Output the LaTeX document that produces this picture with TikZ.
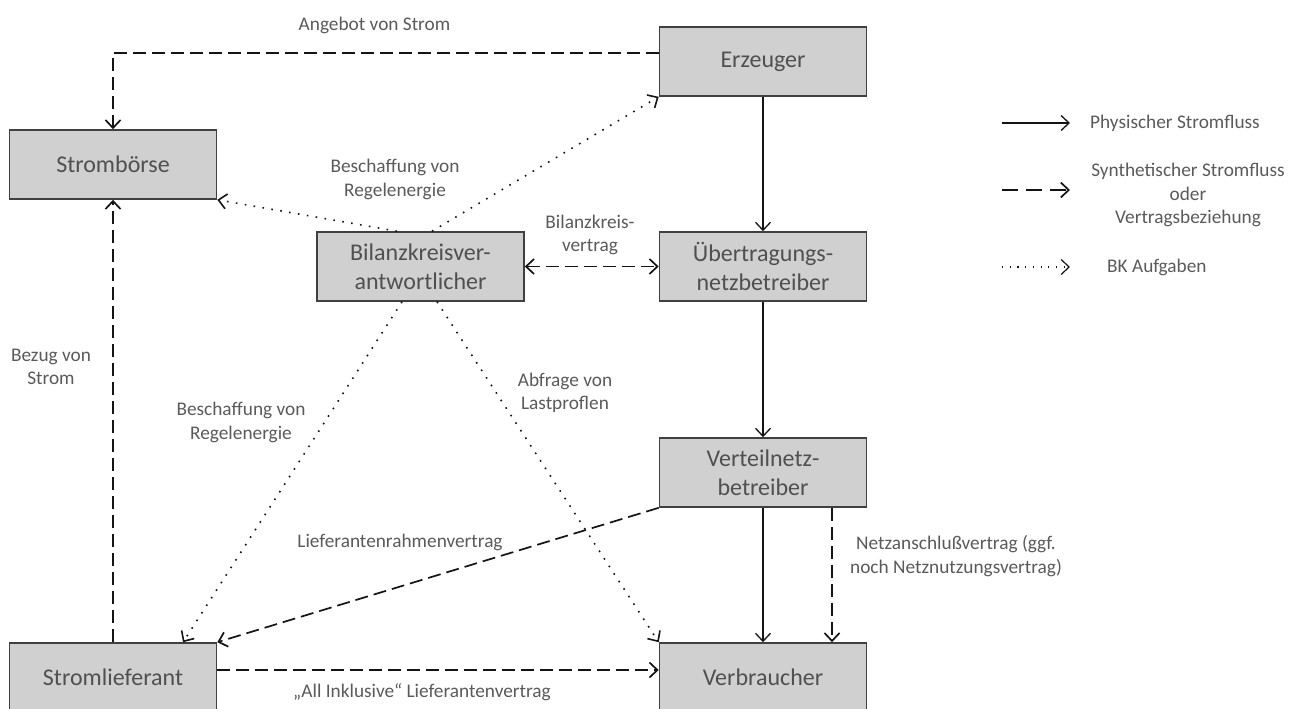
\documentclass[tikz,border=0pt]{standalone}
\usepackage{fontspec}
\setmainfont{Carlito}
\usetikzlibrary{arrows.meta}

\definecolor{boxfill}{RGB}{208,208,208}
\definecolor{boxline}{RGB}{64,64,64}
\definecolor{boxtext}{RGB}{80,80,80}
\definecolor{labeltext}{RGB}{90,90,90}
\definecolor{linecol}{RGB}{20,20,20}

\tikzset{
  actor/.style={rectangle, draw=boxline, fill=boxfill, line width=1.6pt,
    minimum width=207pt, minimum height=69pt, inner sep=0pt, align=center,
    text=boxtext, font=\fontsize{24}{29.3}\selectfont},
  lbl/.style={align=center, inner sep=0pt, text=labeltext,
    font=\fontsize{19.3}{23.3}\selectfont},
  tip/.style={-{Straight Barb[length=8pt,width=15pt]}},
  physflow/.style={draw=linecol, line width=1.3pt, tip},
  contract/.style={draw=linecol, line width=1.7pt, dash pattern=on 13pt off 6pt, tip},
  bktask/.style={draw=linecol, line width=1.6pt, dash pattern=on 1.6pt off 7.4pt, tip},
}

\begin{document}
\begin{tikzpicture}[x=1pt, y=-1pt]
  \useasboundingbox (0,0) rectangle (1301,709);
  \clip (0,0) rectangle (1301,709);

  % actors
  \node[actor] (erz)    at (763,61.5)   {Erzeuger};
  \node[actor] (boerse) at (113,164.5)  {Strombörse};
  \node[actor] (bkv)    at (420.5,266.5){Bilanzkreisver-\\antwortlicher};
  \node[actor] (uenb)   at (763,266.5)  {Übertragungs-\\netzbetreiber};
  \node[actor] (vnb)    at (763,472.5)  {Verteilnetz-\\betreiber};
  \node[actor] (verb)   at (763,677.5)  {Verbraucher};
  \node[actor] (liefer) at (113,677.5)  {Stromlieferant};

  % physical power flow
  \draw[physflow] (erz.south) -- (uenb.north);
  \draw[physflow] (uenb.south) -- (vnb.north);
  \draw[physflow] (vnb.south) -- (verb.north);

  % synthetic flows and contracts
  \draw[contract] ([yshift=8.5pt]erz.west) -| (boerse.north);
  \draw[contract] (liefer.north) -- (boerse.south);
  \draw[contract, {Straight Barb[length=8pt,width=15pt]}-{Straight Barb[length=8pt,width=15pt]}] (bkv.east) -- (uenb.west);
  \draw[contract] ([xshift=69pt]vnb.south) -- ([xshift=69pt]verb.north);
  \draw[contract] (vnb.south west) -- (liefer.north east);
  \draw[contract] ([yshift=7.5pt]liefer.east) -- ([yshift=7.5pt]verb.west);

  % balancing group tasks
  \draw[bktask] ([xshift=-23.5pt]bkv.north) -- (boerse.south east);
  \draw[bktask] ([xshift=11.5pt]bkv.north) -- (erz.south west);
  \draw[bktask] ([xshift=-18.5pt]bkv.south) -- ([xshift=70pt]liefer.north);
  \draw[bktask] ([xshift=16.5pt]bkv.south) -- (verb.north west);

  % connector labels
  \node[lbl] (lAngebot)  at (374.5,25)  {Angebot von Strom};
  \node[lbl] (lBeschOben) at (395,179.5) {Beschaffung von\\Regelenergie};
  \node[lbl] (lBKV)      at (590,235)   {Bilanzkreis-\\vertrag};
  \node[lbl] (lBezug)    at (51,367)    {Bezug von\\Strom};
  \node[lbl] (lBeschUnten) at (241,422.5) {Beschaffung von\\Regelenergie};
  \node[lbl] (lAbfrage)  at (565,393)   {Abfrage von\\Lastproflen};
  \node[lbl] (lRahmen)   at (400,542)   {Lieferantenrahmenvertrag};
  \node[lbl] (lAllIn)    at (422,692)   {„All Inklusive“ Lieferantenvertrag};
  \node[lbl] (lNetz)     at (956,556)   {Netzanschlußvertrag (ggf.\\noch Netznutzungsvertrag)};

  % legend
  \coordinate (legA1) at (1002,123);
  \coordinate (legA2) at (1070,123);
  \coordinate (legB1) at (1002,190);
  \coordinate (legB2) at (1070,190);
  \coordinate (legC1) at (1002,267);
  \coordinate (legC2) at (1070,267);
  \draw[physflow] (legA1) -- (legA2);
  \draw[contract, dash pattern=on 16pt off 8pt] (legB1) -- (legB2);
  \draw[bktask, line width=1.2pt, dash pattern=on 1.2pt off 6.5pt] (legC1) -- (legC2);
  \node[lbl, anchor=west] (legAtext) at (1090,123) {Physischer Stromfluss};
  \node[lbl] (legBtext) at (1188,195) {Synthetischer Stromfluss\\oder\\Vertragsbeziehung};
  \node[lbl, anchor=west] (legCtext) at (1107,267) {BK Aufgaben};
\end{tikzpicture}
\end{document}
